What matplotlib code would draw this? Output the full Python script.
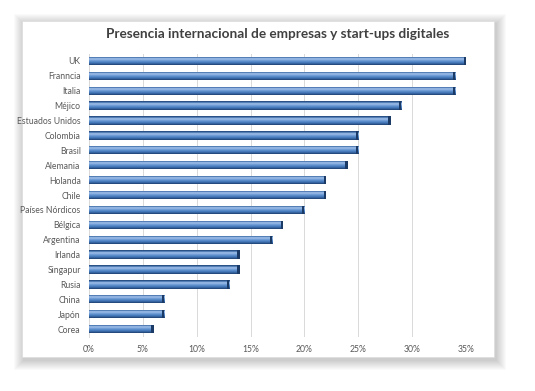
import matplotlib
matplotlib.use("Agg")
import matplotlib.pyplot as plt
import numpy as np
from matplotlib.patches import Rectangle
from matplotlib.colors import LinearSegmentedColormap

countries = ["UK", "Franncia", "Italia", "Méjico", "Estuados Unidos", "Colombia",
             "Brasil", "Alemania", "Holanda", "Chile", "Países Nórdicos", "Bélgica",
             "Argentina", "Irlanda", "Singapur", "Rusia", "China", "Japón", "Corea"]
values = [35, 34, 34, 29, 28, 25, 25, 24, 22, 22, 20, 18, 17, 14, 14, 13, 7, 7, 6]
xticks = [0, 5, 10, 15, 20, 25, 30, 35]
title = "Presencia internacional de empresas y start-ups digitales"

W, H = 535, 391
fig = plt.figure(figsize=(W / 100, H / 100), dpi=100)
fig.patch.set_facecolor("white")

# card shadow + card
cx0, cy0, cx1, cy1 = 22, 21, 494, 357
for i in range(10):
    g = 10 - i
    fig.patches.append(Rectangle(((cx0 - g + 2) / W, 1 - (cy1 + g + 3) / H),
                                 (cx1 - cx0 + 2 * g) / W, (cy1 - cy0 + 2 * g) / H,
                                 transform=fig.transFigure, facecolor="black",
                                 alpha=0.018, edgecolor="none", zorder=0))
fig.patches.append(Rectangle((cx0 / W, 1 - cy1 / H), (cx1 - cx0) / W, (cy1 - cy0) / H,
                             transform=fig.transFigure, facecolor="white",
                             edgecolor="#dcdcdc", linewidth=0.5, zorder=1))

ax_left, ax_right = 89 / W, 466 / W
ax_top, ax_bot = 1 - 53.5 / H, 1 - 336.5 / H
ax = fig.add_axes([ax_left, ax_bot, ax_right - ax_left, ax_top - ax_bot])
ax.set_facecolor("none")
ax.set_zorder(2)

n = len(countries)
ypos = np.arange(n)
bh = 0.56

cmap = LinearSegmentedColormap.from_list("cyl", [
    (0.0, "#1d3f6e"), (0.12, "#3a6aa8"), (0.3, "#a8c6ec"), (0.45, "#7aa5dc"),
    (0.7, "#4a7ec0"), (0.9, "#2e5a96"), (1.0, "#1b3a66")])
grad = np.linspace(0, 1, 64).reshape(-1, 1)

bars = ax.barh(ypos, values, height=bh, color="#4a7ec0", edgecolor="none", zorder=3)
for b in bars:
    x, y, w, h = b.get_x(), b.get_y(), b.get_width(), b.get_height()
    im = ax.imshow(grad, cmap=cmap, aspect="auto", extent=(x, x + w, y + h, y),
                   zorder=4, interpolation="bilinear")
    im.set_clip_path(b)
    ax.add_patch(Rectangle((x + w - 0.22, y), 0.22, h, facecolor="#1b3a66",
                           edgecolor="none", zorder=5))

ax.set_xlim(0, 35)
ax.set_ylim(n - 0.5, -0.5)
ax.set_yticks(ypos)
ax.set_yticklabels(countries)
ax.set_xticks(xticks)
ax.set_xticklabels([f"{v}%" for v in xticks])
ax.grid(axis="x", color="#d9d9d9", linewidth=0.7, zorder=0)
ax.set_axisbelow(True)
for s in ["top", "right", "bottom"]:
    ax.spines[s].set_visible(False)
ax.spines["left"].set_color("#d9d9d9")
ax.spines["left"].set_linewidth(0.7)
ax.tick_params(length=0, labelsize=6.2, labelcolor="#595959", pad=6)
for lab in ax.get_xticklabels() + ax.get_yticklabels():
    lab.set_fontfamily("Lato")

fig.text(278 / W, 1 - 34 / H, title, ha="center", va="center", fontsize=9.8,
         fontweight="bold", color="#404040", family="Lato", zorder=3)

fig.savefig("out.png", dpi=100)
